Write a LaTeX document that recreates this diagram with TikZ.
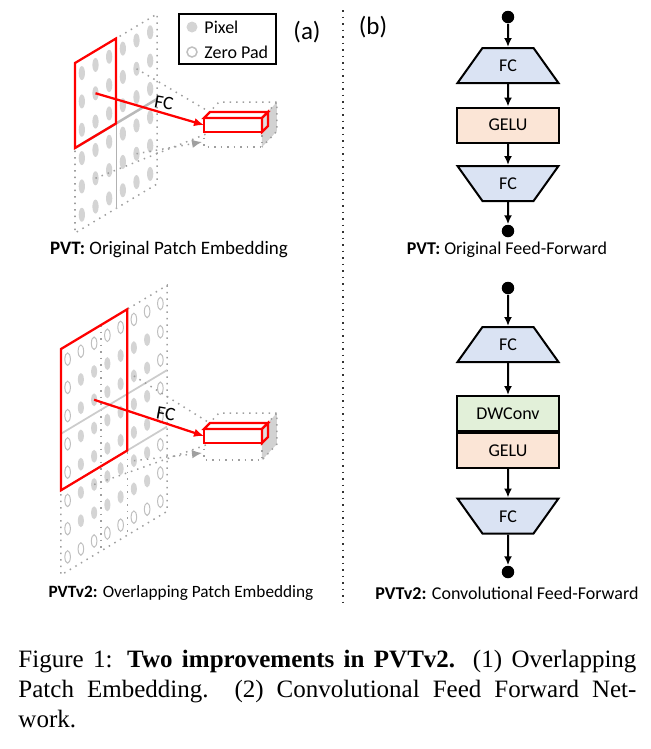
\documentclass[tikz,border=0pt]{standalone}
\usepackage{fontspec}
\setmainfont{Liberation Serif}
\newfontfamily\cali{Carlito}
\usetikzlibrary{calc,shapes.geometric,arrows.meta}

\definecolor{fcblue}{RGB}{218,227,243}
\definecolor{geluorange}{RGB}{251,229,214}
\definecolor{convgreen}{RGB}{226,240,217}
\definecolor{pixgray}{RGB}{212,212,212}

\tikzset{
  lbl/.style={font=\cali\fontsize{7.2}{8.6}\selectfont},
  biglbl/.style={font=\cali\fontsize{7.6}{9}\selectfont},
  pix/.style={fill=pixgray},
  pad/.style={draw=gray!50, line width=0.4pt},
  border/.style={gray!75, dotted, line width=0.6pt},
  redline/.style={red, line width=0.9pt},
  flow/.style={-{Latex[length=3.6pt,width=3.2pt]}, line width=0.8pt},
  fcup/.style={trapezium, trapezium stretches body, trapezium left angle=54.5,
    trapezium right angle=54.5, minimum width=40.4pt, text height=5pt,
    text depth=0pt, inner xsep=0pt, inner ysep=4.5pt, draw, line width=0.8pt,
    fill=fcblue, lbl},
  fcdown/.style={fcup, trapezium left angle=125.5, trapezium right angle=125.5},
  act/.style={rectangle, draw, line width=0.8pt, minimum width=40.4pt,
    minimum height=14pt, inner sep=0pt, lbl},
  dot/.style={circle, fill=black, minimum size=5pt, inner sep=0pt},
}

\begin{document}
\begin{tikzpicture}[x=0.4pt,y=-0.4pt]
\useasboundingbox (0,0) rectangle (651,749);

% (a) original patch embedding
\begin{scope}[shift={(75,63)},x={(5.467pt,3.267pt)},y={(0pt,-11.333pt)}]
\foreach \i in {0,...,5}
  \foreach \j in {0,...,5}
    \fill[pix] (\i+0.5,\j+0.5) ellipse [x radius=1.25pt, y radius=2.8pt];
\draw[border] (0,0) -- (6,0) -- (6,6) -- (0,6) -- cycle;
\draw[gray!60] (3,0) -- (3,6);
\draw[gray!55, line width=1pt] (0,3) -- (6,3);
\draw[redline] (0,0) -- (3,0) -- (3,3) -- (0,3) -- cycle;
\coordinate (pa) at (1.5,1.5);
\coordinate (pb) at (4.5,1.5);
\coordinate (pc) at (4.5,4.5);
\coordinate (pd) at (1.5,4.5);
\end{scope}

\fill[gray!35] (262,118) -- (277,102) -- (277,131) -- (262,147) -- cycle;
\draw[border] (204,118) -- (204,147) -- (262,147) -- (262,118);
\draw[border] (204,118) -- (219,102) -- (277,102) -- (277,131) -- (262,147);
\draw[border] (262,118) -- (277,102);
\filldraw[redline, fill=white] (204,118) rectangle (262,132);
\filldraw[redline, fill=white] (204,118) -- (210,112) -- (268,112) -- (262,118) -- cycle;
\filldraw[redline, fill=gray!25] (262,118) -- (268,112) -- (268,126) -- (262,132) -- cycle;
\coordinate (ea) at (204,125);
\coordinate (eb) at (208,111);
\coordinate (ec) at (202,142);
\coordinate (ed) at (206,134);

\draw[border] (pb) -- (eb);
\draw[border] (pd) -- (ed);
\draw[border, -{Latex[length=4pt,width=3.4pt]}] (pc) -- (ec);
\draw[redline, -{Latex[length=4pt,width=3.4pt]}] (pa) -- (ea);
\node[biglbl, rotate=-10] (fca) at (164,103) {FC};

% legend
\draw[line width=0.9pt] (179,14) rectangle (276,64);
\fill[pixgray] (192,27) circle [radius=2.2pt];
\draw[gray!50, line width=0.6pt] (192,52) circle [radius=2pt];
\node[lbl, anchor=west, inner sep=0pt] (pixel) at (204,27) {Pixel};
\node[lbl, anchor=west, inner sep=0pt] (zeropad) at (204,52) {Zero Pad};
\node[font=\cali\fontsize{10}{12}\selectfont] (taga) at (307,32) {(a)};

\node[biglbl] (capa1) at (169,250) {\textbf{PVT:} Original Patch Embedding};

% (a) overlapping patch embedding
\begin{scope}[shift={(61,349)},x={(5.3pt,3.18pt)},y={(0pt,-11.3pt)}]
\foreach \i in {0,...,7}
  \foreach \j in {0,...,7} {
    \ifnum\i=0 \def\hollow{1}\else\ifnum\i=7 \def\hollow{1}\else
    \ifnum\j=0 \def\hollow{1}\else\ifnum\j=7 \def\hollow{1}\else
    \def\hollow{0}\fi\fi\fi\fi
    \ifnum\hollow=1
      \draw[pad] (\i+0.5,\j+0.5) ellipse [x radius=1.1pt, y radius=2.5pt];
    \else
      \fill[pix] (\i+0.5,\j+0.5) ellipse [x radius=1.2pt, y radius=2.6pt];
    \fi
  }
\draw[border] (0,0) -- (8,0) -- (8,8) -- (0,8) -- cycle;
\draw[border] (3,0) -- (3,8);
\draw[border] (5,0) -- (5,8);
\draw[gray!40, line width=0.7pt] (0,3) -- (8,3);
\draw[gray!40, line width=0.7pt] (0,5) -- (8,5);
\draw[redline] (0,0) -- (5,0) -- (5,5) -- (0,5) -- cycle;
\coordinate (qa) at (2.5,2.5);
\coordinate (qb) at (5.5,2.5);
\coordinate (qc) at (5.5,5.5);
\coordinate (qd) at (2.5,5.5);
\end{scope}

\fill[gray!35] (262,429) -- (277,413) -- (277,444) -- (262,460) -- cycle;
\draw[border] (204,429) -- (204,460) -- (262,460) -- (262,429);
\draw[border] (204,429) -- (219,413) -- (277,413) -- (277,444) -- (262,460);
\draw[border] (262,429) -- (277,413);
\filldraw[redline, fill=white] (204,429) rectangle (262,443);
\filldraw[redline, fill=white] (204,429) -- (210,423) -- (268,423) -- (262,429) -- cycle;
\filldraw[redline, fill=gray!25] (262,429) -- (268,423) -- (268,437) -- (262,443) -- cycle;
\coordinate (fa) at (204,436);
\coordinate (fb) at (208,422);
\coordinate (fc) at (202,453);
\coordinate (fd) at (206,445);

\draw[border] (qb) -- (fb);
\draw[border] (qd) -- (fd);
\draw[border, -{Latex[length=4pt,width=3.4pt]}] (qc) -- (fc);
\draw[redline, -{Latex[length=4pt,width=3.4pt]}] (qa) -- (fa);
\node[biglbl, rotate=-10] (fcb) at (166,414) {FC};

\node[font=\cali\fontsize{6.9}{8.2}\selectfont] (capa2) at (181,593)
  {\textbf{PVTv2:} Overlapping Patch Embedding};

% separator
\draw[black!80, dotted, line width=0.6pt] (343,10) -- (343,605);

% (b) feed-forward
\node[font=\cali\fontsize{10}{12}\selectfont] (tagb) at (373,27) {(b)};

\node[dot] (in1) at (508,17) {};
\node[fcup] (fc1) at (508,65.5) {FC};
\node[act, fill=geluorange] (gelu1) at (508,125) {GELU};
\node[fcdown] (fc2) at (508,183.5) {FC};
\node[dot] (out1) at (508,231) {};
\draw[flow] (in1) -- (fc1);
\draw[flow] (fc1) -- (gelu1);
\draw[flow] (gelu1) -- (fc2);
\draw[flow] (fc2) -- (out1);
\node[lbl] (capb1) at (507,250) {\textbf{PVT:} Original Feed-Forward};

\node[dot] (in2) at (508,288) {};
\node[fcup] (fc3) at (508,344.5) {FC};
\node[act, fill=convgreen] (conv) at (508,413.5) {DWConv};
\node[act, fill=geluorange, anchor=north] (gelu2) at (conv.south) {GELU};
\node[fcdown] (fc4) at (508,516) {FC};
\node[dot] (out2) at (508,572) {};
\draw[flow] (in2) -- (fc3);
\draw[flow] (fc3) -- (conv);
\draw[flow] (gelu2) -- (fc4);
\draw[flow] (fc4) -- (out2);
\node[lbl] (capb2) at (507,593) {\textbf{PVTv2:} Convolutional Feed-Forward};

% caption
\node[anchor=north west, inner sep=0pt, text width=247.2pt, align=justify,
  font=\fontsize{10}{12}\selectfont] (caption) at (18,650)
  {Figure 1: \textbf{Two improvements in PVTv2.} (1) Overlapping\linebreak
   Patch Embedding.\ \ (2) Convolutional Feed Forward Net-\linebreak work.};
\end{tikzpicture}
\end{document}
